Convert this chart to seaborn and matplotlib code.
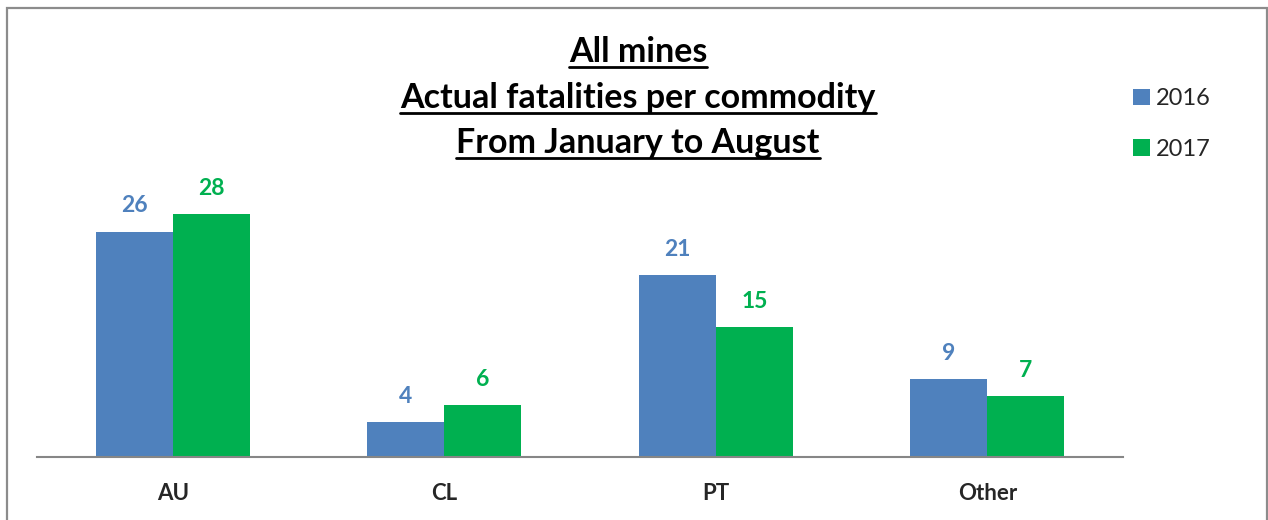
import matplotlib
matplotlib.use("Agg")
import matplotlib.pyplot as plt
import seaborn as sns
import pandas as pd
from matplotlib.lines import Line2D
from matplotlib.patches import Rectangle

categories = ["AU", "CL", "PT", "Other"]
years = ["2016", "2017"]
values_2016 = [26, 4, 21, 9]
values_2017 = [28, 6, 15, 7]
title_lines = ["All mines", "Actual fatalities per commodity", "From January to August"]
colors = {"2016": "#4F81BD", "2017": "#00B050"}

df = pd.DataFrame({
    "commodity": categories * 2,
    "year": [years[0]] * len(categories) + [years[1]] * len(categories),
    "fatalities": values_2016 + values_2017,
})

sns.set_style("white")
plt.rcParams["font.family"] = ["Lato", "DejaVu Sans"]

fig = plt.figure(figsize=(12.68, 5.2), dpi=100)
ax = fig.add_axes([0.0292, 0.1212, 0.8565, 0.5])
sns.barplot(data=df, x="commodity", y="fatalities", hue="year", palette=colors,
            width=0.567, gap=0, saturation=1, ax=ax, edgecolor="none")

ax.set_ylim(0, 30)
ax.set_xlim(-0.5, 3.5)
for s in ["top", "right", "left"]:
    ax.spines[s].set_visible(False)
ax.spines["bottom"].set_color("#868686")
ax.spines["bottom"].set_linewidth(1.5)
ax.set_yticks([])
ax.set_xlabel("")
ax.set_ylabel("")
ax.tick_params(axis="x", length=0, pad=19)
for lab in ax.get_xticklabels():
    lab.set_fontweight("bold")
    lab.set_fontsize(16)

for cont, yr in zip(ax.containers, years):
    ax.bar_label(cont, padding=11, color=colors[yr], fontweight="bold", fontsize=16.5)

leg = ax.legend(loc="upper left", bbox_to_anchor=(1112/1268, 1 - 67/520),
                bbox_transform=fig.transFigure, frameon=False, fontsize=17,
                handlelength=0.7, handleheight=0.7, handletextpad=0.25,
                labelspacing=1.25)

ys = [52, 98, 143]
texts = []
for line, y in zip(title_lines, ys):
    t = fig.text(638/1268, 1 - y/520, line, ha="center", va="center",
                 fontsize=24.5, fontweight="bold", color="black")
    texts.append(t)

fig.canvas.draw()
r = fig.canvas.get_renderer()
for t in texts:
    bb = t.get_window_extent(r)
    yline = bb.y0 + 1
    fig.add_artist(Line2D([bb.x0 / 1268, bb.x1 / 1268], [yline / 520, yline / 520],
                          transform=fig.transFigure, color="black", linewidth=2))

fig.add_artist(Rectangle((6.5/1268, -0.05), (1267 - 6.5)/1268, 1.05 - 7.5/520,
                         transform=fig.transFigure, fill=False,
                         edgecolor="#8C8C8C", linewidth=1.6))

fig.savefig("out.png", dpi=100)
